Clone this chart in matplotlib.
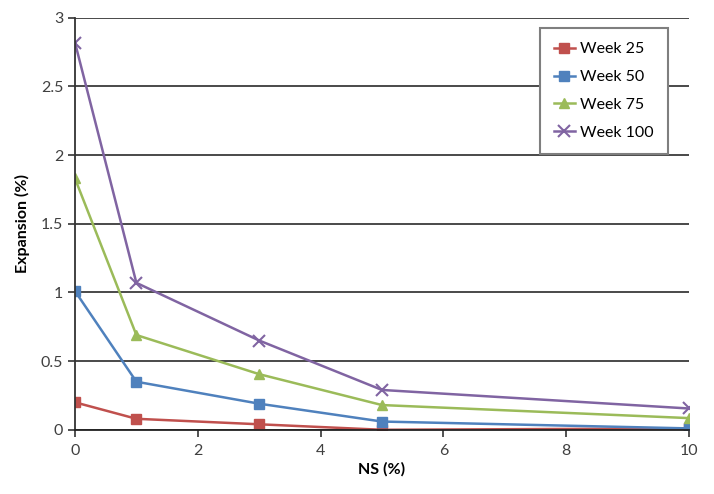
import matplotlib
matplotlib.use("Agg")
import matplotlib.pyplot as plt

# values
ns = [0, 1, 3, 5, 10]
week25 = [0.20, 0.08, 0.04, 0.00, 0.01]
week50 = [1.01, 0.35, 0.19, 0.06, 0.01]
week75 = [1.83, 0.69, 0.405, 0.18, 0.085]
week100 = [2.82, 1.07, 0.65, 0.29, 0.155]
labels = ["Week 25", "Week 50", "Week 75", "Week 100"]

plt.rcParams['font.family'] = ['Lato', 'DejaVu Sans']

fig = plt.figure(figsize=(7.14, 4.94), dpi=100)
ax = fig.add_axes([0.105, 0.13, 0.86, 0.834])

ax.plot(ns, week25, color='#C0504D', marker='s', markersize=7.5, lw=1.8, label=labels[0])
ax.plot(ns, week50, color='#4F81BD', marker='s', markersize=7.5, lw=1.8, label=labels[1])
ax.plot(ns, week75, color='#9BBB59', marker='^', markersize=7.5, lw=1.8, label=labels[2])
ax.plot(ns, week100, color='#8064A2', marker='x', markersize=8, mew=1.5, lw=1.8, label=labels[3])

ax.set_xlim(0, 10)
ax.set_ylim(0, 3)
ax.set_xticks([0, 2, 4, 6, 8, 10])
ax.set_yticks([0, 0.5, 1, 1.5, 2, 2.5, 3])
ax.set_yticklabels(['0', '0.5', '1', '1.5', '2', '2.5', '3'])
ax.yaxis.grid(True, color='#3a3a3a', lw=1.3)
ax.set_axisbelow(True)
for s in ['top', 'right']:
    ax.spines[s].set_visible(False)
ax.spines['left'].set_color('#333333')
ax.spines['bottom'].set_color('#222222')
ax.spines['left'].set_linewidth(1.3)
ax.spines['bottom'].set_linewidth(1.3)
ax.tick_params(axis='both', colors='#333333', labelcolor='#404040', labelsize=11.5, length=5, width=1.2)
ax.tick_params(axis='x', pad=5)

ax.set_xlabel('NS (%)', fontsize=11.5, fontweight='bold', labelpad=3)
ax.set_ylabel('Expansion (%)', fontsize=11.5, fontweight='bold', labelpad=8)

leg = ax.legend(loc='upper right', bbox_to_anchor=(0.978, 0.995), fontsize=11.5, frameon=True,
                fancybox=False, edgecolor='#7f7f7f', handlelength=1.3, handletextpad=0.3,
                borderpad=0.9, labelspacing=0.85, framealpha=1)
leg.get_frame().set_linewidth(1.5)

fig.savefig('out.png', dpi=100)
